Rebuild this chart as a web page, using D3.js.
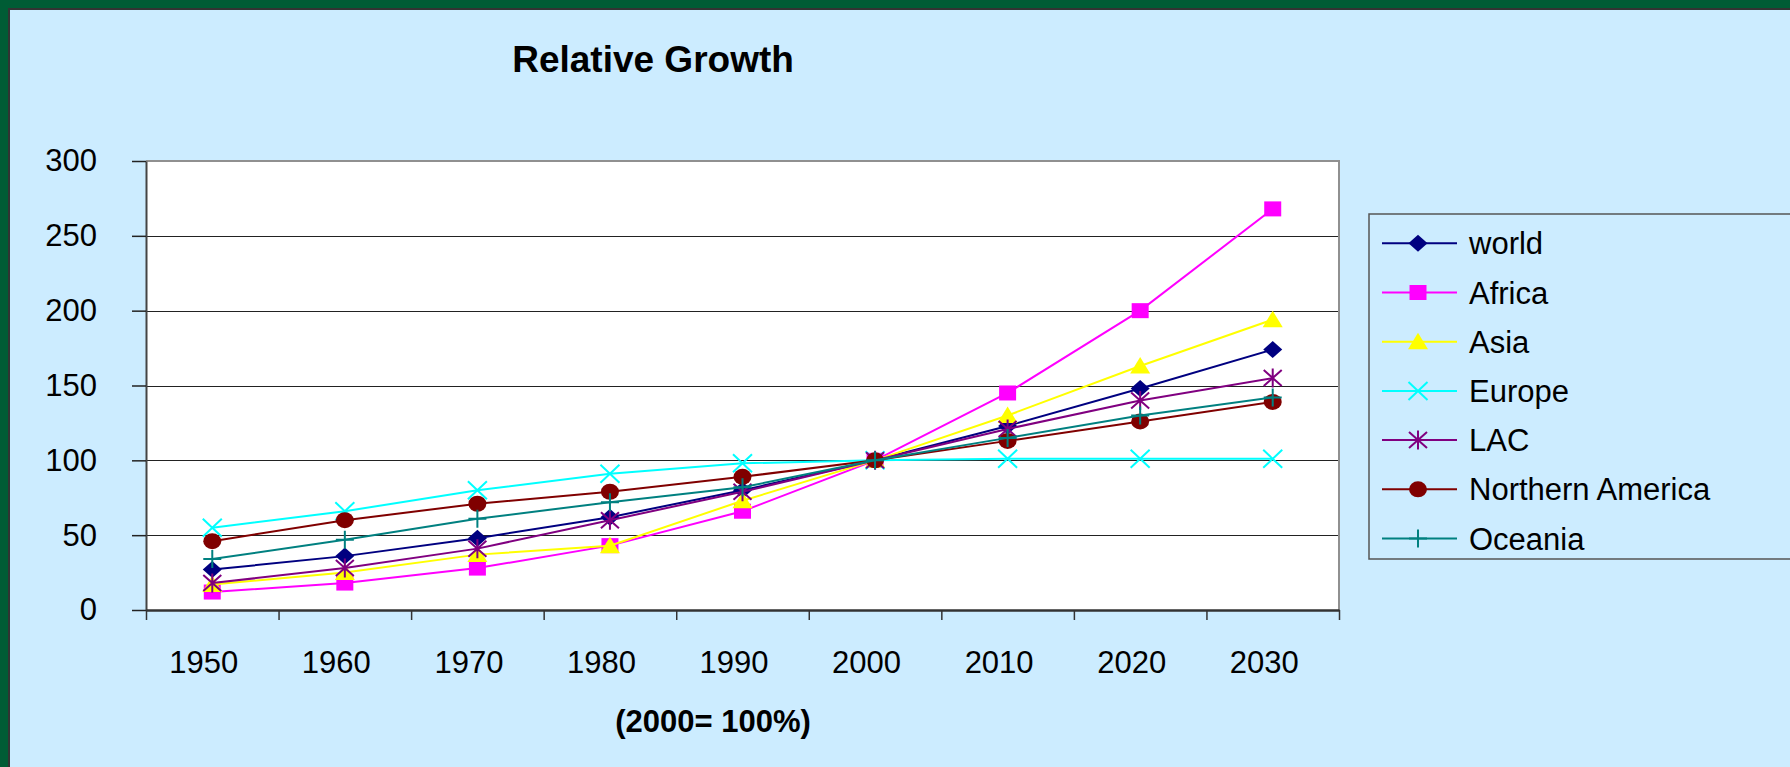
<!DOCTYPE html>
<html>
<head>
<meta charset="utf-8">
<script src="https://cdn.jsdelivr.net/npm/d3@7"></script>
<style>
  html, body { margin: 0; padding: 0; background: #CCECFF; }
  svg { display: block; }
  text { font-family: "Liberation Sans", Arial, sans-serif; fill: #000; }
</style>
</head>
<body>
<svg id="chart" width="1790" height="767"></svg>
<script>
// ---- data ----
const years = ["1950", "1960", "1970", "1980", "1990", "2000", "2010", "2020", "2030"];
const yTicks = [0, 50, 100, 150, 200, 250, 300];
const seriesNames = ["world", "Africa", "Asia", "Europe", "LAC", "Northern America", "Oceania"];
const world        = [27, 36, 48, 62, 80, 100, 123, 148, 174];
const africa       = [12, 18, 28, 43, 66, 100, 145, 200, 268];
const asia         = [17, 25, 37, 43, 73, 100, 130, 163, 194];
const europe       = [55, 66, 80, 91, 98, 100, 101, 101, 101];
const lac          = [18, 28, 41, 60, 79, 100, 121, 140, 155];
const northAmerica = [46, 60, 71, 79, 89, 100, 113, 126, 139];
const oceania      = [34, 47, 61, 72, 82, 100, 115, 130, 142];
const seriesColors = ["#000080", "#FF00FF", "#FFFF00", "#00FFFF", "#800080", "#800000", "#008080"];
const seriesMarkers = ["diamond", "square", "triangle", "x", "star", "circle", "plus"];
const seriesValues = [world, africa, asia, europe, lac, northAmerica, oceania];
const titleText = "Relative Growth";
const xTitleText = "(2000= 100%)";

// ---- layout ----
const W = 1790, H = 767;
const plot = { left: 146, right: 1339, top: 161, bottom: 610 };
const svg = d3.select("#chart");

// background + frame
svg.append("rect").attr("x", 0).attr("y", 0).attr("width", W).attr("height", H).attr("fill", "#005C35");
svg.append("rect").attr("x", 9).attr("y", 9).attr("width", W).attr("height", H).attr("fill", "#CCECFF")
  .attr("stroke", "#333").attr("stroke-width", 2);

// scales
const x = d3.scaleBand().domain(years).range([plot.left, plot.right]).padding(0);
const xb = d3.scaleLinear().domain([0, years.length]).range([plot.left, plot.right]);
const y = d3.scaleLinear().domain([0, 300]).range([plot.bottom, plot.top]);
const cx = d => x(d) + x.bandwidth() / 2;

// plot area
svg.append("rect").attr("x", plot.left).attr("y", plot.top)
  .attr("width", plot.right - plot.left).attr("height", plot.bottom - plot.top)
  .attr("fill", "#FFFFFF");

// gridlines
const grid = svg.append("g").attr("transform", `translate(${plot.left},0)`)
  .call(d3.axisLeft(y).tickValues(yTicks.slice(1, -1)).tickSize(-(plot.right - plot.left)).tickFormat(""));
grid.select(".domain").remove();
grid.selectAll(".tick").attr("transform", d => `translate(0,${Math.round(y(d)) + 0.5})`);
grid.selectAll("line").attr("stroke", "#222").attr("stroke-width", 1);

// plot border top/right
svg.append("path")
  .attr("d", `M${plot.left},${plot.top}H${plot.right}V${plot.bottom}`)
  .attr("fill", "none").attr("stroke", "#909090").attr("stroke-width", 2);

// y axis
const yAxis = svg.append("g").attr("transform", `translate(${plot.left},0)`)
  .call(d3.axisLeft(y).tickValues(yTicks).tickSize(14).tickPadding(35).tickSizeOuter(0));
yAxis.select(".domain").attr("stroke", "#444").attr("stroke-width", 2);
yAxis.selectAll(".tick line").attr("stroke", "#222").attr("stroke-width", 1.5);
yAxis.selectAll("text").style("font-size", "31px").attr("fill", "#000")
  .style("font-family", '"Liberation Sans", Arial, sans-serif');

// x axis ticks at category boundaries
const xTickAxis = svg.append("g").attr("transform", `translate(0,${plot.bottom})`)
  .call(d3.axisBottom(xb).tickValues(d3.range(0, years.length + 1)).tickSize(10).tickFormat("").tickSizeOuter(0));
xTickAxis.select(".domain").attr("stroke", "#333").attr("stroke-width", 2.5);
xTickAxis.selectAll(".tick line").attr("stroke", "#333").attr("stroke-width", 1.5);

// x axis labels
const xLab = svg.append("g").attr("transform", `translate(-8.5,${plot.bottom})`)
  .call(d3.axisBottom(x).tickSize(0).tickPadding(41));
xLab.select(".domain").remove();
xLab.selectAll("text").style("font-size", "31px").attr("fill", "#000")
  .style("font-family", '"Liberation Sans", Arial, sans-serif');

// marker drawing
function drawMarker(g, type, color) {
  switch (type) {
    case "diamond":
      g.append("path").attr("d", "M0,-8.5L9.5,0L0,8.5L-9.5,0Z").attr("fill", color); break;
    case "square":
      g.append("rect").attr("x", -8.5).attr("y", -7.5).attr("width", 17).attr("height", 15).attr("fill", color); break;
    case "triangle":
      g.append("path").attr("d", "M0,-9L10,7.5L-10,7.5Z").attr("fill", color); break;
    case "x":
      g.append("path").attr("d", "M-9.5,-9L9.5,9M-9.5,9L9.5,-9").attr("stroke", color).attr("stroke-width", 2).attr("fill", "none"); break;
    case "star":
      g.append("path").attr("d", "M-9,-8L9,8M-9,8L9,-8M0,-9.5V9.5").attr("stroke", color).attr("stroke-width", 2).attr("fill", "none"); break;
    case "circle":
      g.append("ellipse").attr("rx", 9).attr("ry", 8).attr("fill", color); break;
    case "plus":
      g.append("path").attr("d", "M0,-9V9M-9,0H9").attr("stroke", color).attr("stroke-width", 2).attr("fill", "none"); break;
  }
}

// series
const line = d3.line().x((d, i) => cx(years[i])).y(d => y(d));
seriesNames.forEach((name, s) => {
  const vals = seriesValues[s];
  const g = svg.append("g").attr("class", "series");
  g.append("path").datum(vals).attr("d", line)
    .attr("fill", "none").attr("stroke", seriesColors[s]).attr("stroke-width", 2);
  g.selectAll("g.pt").data(vals).join("g").attr("class", "pt")
    .attr("transform", (d, i) => `translate(${cx(years[i])},${y(d)})`)
    .each(function () { drawMarker(d3.select(this), seriesMarkers[s], seriesColors[s]); });
});

// title
svg.append("text").attr("x", 653).attr("y", 72).attr("text-anchor", "middle")
  .style("font-size", "37px").style("font-weight", "bold").text(titleText);

// x title
svg.append("text").attr("x", 713).attr("y", 732).attr("text-anchor", "middle")
  .style("font-size", "31px").style("font-weight", "bold").text(xTitleText);

// legend
const leg = { left: 1369, top: 214, bottom: 559, first: 243.3, step: 49.2 };
svg.append("rect").attr("x", leg.left).attr("y", leg.top).attr("width", 600).attr("height", leg.bottom - leg.top)
  .attr("fill", "none").attr("stroke", "#555").attr("stroke-width", 1.5);
seriesNames.forEach((name, s) => {
  const yy = leg.first + s * leg.step;
  const g = svg.append("g").attr("transform", `translate(0,${yy})`);
  g.append("line").attr("x1", 1382).attr("x2", 1457).attr("y1", 0).attr("y2", 0)
    .attr("stroke", seriesColors[s]).attr("stroke-width", 2);
  const m = g.append("g").attr("transform", "translate(1418,0)");
  drawMarker(m, seriesMarkers[s], seriesColors[s]);
  g.append("text").attr("x", 1469).attr("y", 11).style("font-size", "31px").text(name);
});
</script>
</body>
</html>
